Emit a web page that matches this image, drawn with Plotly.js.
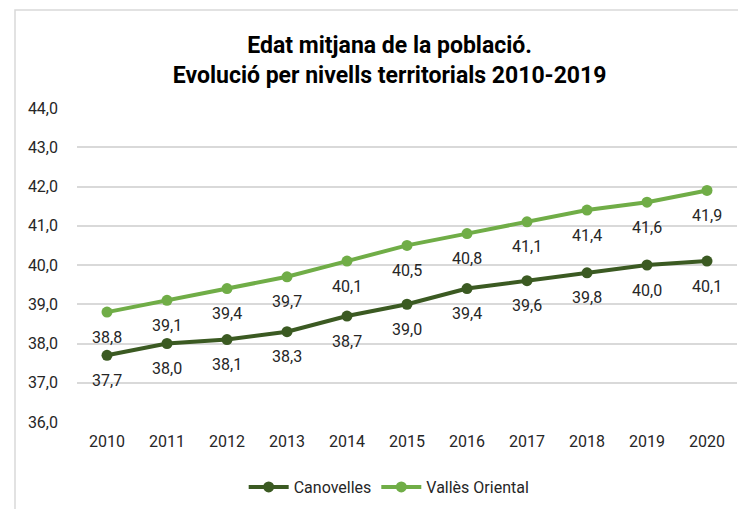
<!DOCTYPE html>
<html>
<head>
<meta charset="utf-8">
<script src="https://cdn.plot.ly/plotly-3.0.1.min.js"></script>
<style>html,body{margin:0;padding:0;background:#fff;}#chart{width:738px;height:509px;}</style>
</head>
<body>
<div id="chart"></div>
<script>
const years = ['2010','2011','2012','2013','2014','2015','2016','2017','2018','2019','2020'];
const canovelles = [37.7, 38.0, 38.1, 38.3, 38.7, 39.0, 39.4, 39.6, 39.8, 40.0, 40.1];
const vallesOriental = [38.8, 39.1, 39.4, 39.7, 40.1, 40.5, 40.8, 41.1, 41.4, 41.6, 41.9];
const seriesNames = ['Canovelles', 'Vallès Oriental'];
const yTicks = [36, 37, 38, 39, 40, 41, 42, 43, 44];

const colors = ['#3b5a22', '#70ad47'];
const fontFam = 'Roboto, sans-serif';
const txtColor = '#262626';
const fmt = v => v.toFixed(1).replace('.', ',');

const allSeries = [canovelles, vallesOriental];
const traces = allSeries.map((vals, i) => ({
  type: 'scatter', mode: 'lines+markers', name: seriesNames[i],
  x: years, y: vals,
  line: {color: colors[i], width: 4},
  marker: {color: colors[i], size: 11},
  hoverinfo: 'skip'
}));

const annotations = [];
allSeries.forEach(vals => {
  vals.forEach((v, j) => {
    annotations.push({
      x: j, y: v, xref: 'x', yref: 'y', text: fmt(v),
      showarrow: false, yshift: -25, visible: true,
      font: {family: fontFam, size: 16, color: txtColor}
    });
  });
});

const layout = {
  width: 738, height: 509,
  margin: {l: 77, r: 1, t: 108, b: 87},
  paper_bgcolor: '#fff', plot_bgcolor: '#fff',
  separators: ',.',
  title: {
    text: '<b>Edat mitjana de la població.</b><br><b>Evolució per nivells territorials 2010-2019</b>',
    x: 0.528, xanchor: 'center', xref: 'container',
    y: 0.896, yanchor: 'middle', yref: 'container',
    font: {family: fontFam, size: 23, color: '#000'}
  },
  xaxis: {
    type: 'category', categoryarray: years,
    showgrid: false, zeroline: false, showline: false, ticks: '',
    ticklabelstandoff: 8,
    tickfont: {family: fontFam, size: 16, color: txtColor},
    range: [-0.5, 10.5], fixedrange: true
  },
  yaxis: {
    range: [36, 44], tickvals: yTicks, tickformat: '.1f',
    showgrid: true, gridcolor: '#d9d9d9', gridwidth: 1.5,
    zeroline: false, showline: false, ticks: '',
    ticklabelstandoff: 18,
    tickfont: {family: fontFam, size: 16, color: txtColor},
    fixedrange: true
  },
  showlegend: true,
  legend: {
    orientation: 'h', x: 0.473, xanchor: 'center', y: -0.207, yanchor: 'middle',
    font: {family: fontFam, size: 16, color: txtColor},
    itemwidth: 40, traceorder: 'normal'
  },
  shapes: [{
    type: 'rect', xref: 'paper', yref: 'paper',
    x0: (15 - 77) / 660, x1: 1.2, y0: -0.6, y1: (422 - 10) / 314,
    line: {color: '#d9d9d9', width: 1.5}, fillcolor: 'rgba(0,0,0,0)', layer: 'below'
  }],
  annotations: annotations
};

Plotly.newPlot('chart', traces, layout, {displayModeBar: false});
</script>
</body>
</html>
